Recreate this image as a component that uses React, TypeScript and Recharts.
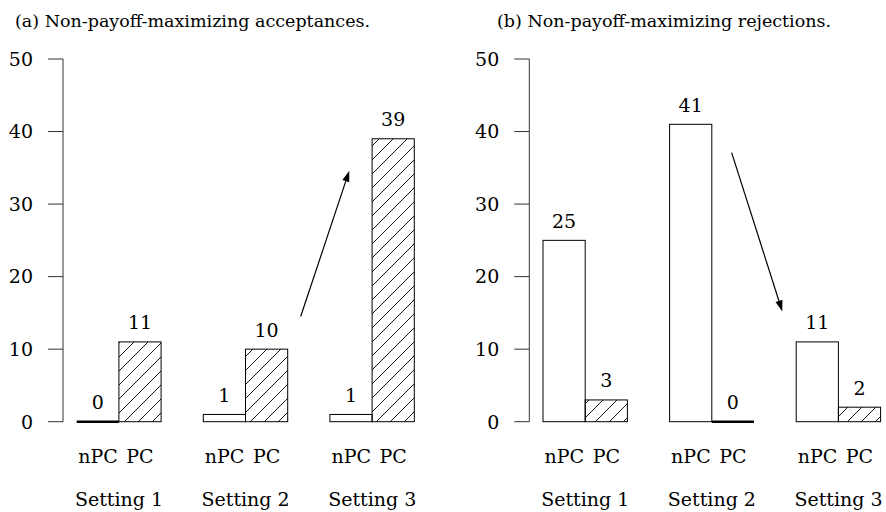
import React from "react";
import { BarChart, Bar, XAxis, YAxis, ReferenceLine, LabelList } from "recharts";

const categories = ["Setting 1", "Setting 2", "Setting 3"];
const seriesNames = ["nPC", "PC"];
const acceptNPC = [0, 1, 1];
const acceptPC = [11, 10, 39];
const rejectNPC = [25, 41, 11];
const rejectPC = [3, 0, 2];
const yTicks = [0, 10, 20, 30, 40, 50];
const titles = ["(a) Non-payoff-maximizing acceptances.", "(b) Non-payoff-maximizing rejections."];
const arrowA = [{ x: 1.935, y: 14.5 }, { x: 2.319, y: 34.6 }];
const arrowB = [{ x: 1.656, y: 37.1 }, { x: 2.056, y: 15.2 }];

const FONT = "DejaVu Serif";
const AXIS_SHIFT = 7.3;
const AXIS_COLOR = "#333";

const buildData = (npc: number[], pc: number[]) =>
  categories.map((c, i) => ({ setting: c, pos: i + 0.5, nPC: npc[i], PC: pc[i] }));

const BarShape = (props: any) => {
  const { x, y, width, height, fill } = props;
  if (!height || Math.abs(height) < 0.5) {
    return <line x1={x} x2={x + width} y1={y + (height || 0)} y2={y + (height || 0)} stroke="#000" strokeWidth={2.4} />;
  }
  return <rect x={x} y={y} width={width} height={height} fill={fill} stroke="#000" strokeWidth={1} />;
};

const ValueLabel = (props: any) => {
  const { x, y, width, value } = props;
  return (
    <text x={x + width / 2} y={y - 12.5} textAnchor="middle" style={{ fontFamily: FONT, fontSize: 19 }} fill="#000">
      {value}
    </text>
  );
};

const YTick = (props: any) => {
  const { x, y, payload } = props;
  const ax = x + AXIS_SHIFT;
  return (
    <g>
      <line x1={ax - 15} x2={ax} y1={y} y2={y} stroke={AXIS_COLOR} strokeWidth={1} />
      <text x={ax - 30} y={y} dy="0.36em" textAnchor="end" style={{ fontFamily: FONT, fontSize: 19 }} fill="#000">
        {payload.value}
      </text>
    </g>
  );
};

const XTick = (props: any) => {
  const { x, y, payload } = props;
  return (
    <g>
      <text x={x - 21} y={y + 41.5} textAnchor="middle" style={{ fontFamily: FONT, fontSize: 19 }} fill="#000">
        {seriesNames[0]}
      </text>
      <text x={x + 21} y={y + 41.5} textAnchor="middle" style={{ fontFamily: FONT, fontSize: 19 }} fill="#000">
        {seriesNames[1]}
      </text>
      <text x={x} y={y + 84.5} textAnchor="middle" style={{ fontFamily: FONT, fontSize: 19 }} fill="#000">
        {payload.value}
      </text>
    </g>
  );
};

const ArrowShape = (props: any) => {
  const { x1, y1, x2, y2 } = props;
  const dx = x2 - x1;
  const dy = y2 - y1;
  const len = Math.sqrt(dx * dx + dy * dy) || 1;
  const ux = dx / len;
  const uy = dy / len;
  const hl = 11;
  const hw = 3.6;
  const bx = x2 - ux * hl;
  const by = y2 - uy * hl;
  const pts = `${x2},${y2} ${bx - uy * hw},${by + ux * hw} ${bx + uy * hw},${by - ux * hw}`;
  return (
    <g>
      <line x1={x1} y1={y1} x2={bx} y2={by} stroke="#000" strokeWidth={1.2} />
      <polygon points={pts} fill="#000" />
    </g>
  );
};

const Panel = ({ npc, pc, arrow, width, yAxisWidth }: any) => {
  const data = buildData(npc, pc);
  const plotW = 126.6 * 3;
  return (
    <BarChart
      width={width}
      height={512}
      data={data}
      margin={{ top: 59, right: width - yAxisWidth - plotW, bottom: 0, left: 0 }}
      barGap={0}
      barSize={42.2}
    >
      <XAxis
        dataKey="setting"
        height={90.3}
        axisLine={false}
        tickLine={false}
        tickSize={0}
        tickMargin={0}
        interval={0}
        tick={<XTick />}
      />
      <XAxis xAxisId="num" dataKey="pos" type="number" domain={[0, 3]} allowDataOverflow hide />
      <YAxis
        width={yAxisWidth}
        domain={[0, 50]}
        ticks={yTicks}
        axisLine={false}
        tickLine={false}
        tickSize={0}
        tickMargin={0}
        interval={0}
        tick={<YTick />}
      />
      <ReferenceLine xAxisId="num" x={AXIS_SHIFT / 126.6} stroke={AXIS_COLOR} strokeWidth={1} />
      <Bar dataKey="nPC" fill="#fff" shape={<BarShape />} isAnimationActive={false}>
        <LabelList dataKey="nPC" content={<ValueLabel />} />
      </Bar>
      <Bar dataKey="PC" fill="url(#hatch)" shape={<BarShape />} isAnimationActive={false}>
        <LabelList dataKey="PC" content={<ValueLabel />} />
      </Bar>
      <ReferenceLine xAxisId="num" segment={arrow} shape={ArrowShape} ifOverflow="visible" />
    </BarChart>
  );
};

export default function App() {
  return (
    <div style={{ position: "absolute", left: 0, top: 0, width: 886, height: 512, overflow: "hidden", background: "#fff" }}>
      <svg width={0} height={0} style={{ position: "absolute" }}>
        <defs>
          <pattern id="hatch" patternUnits="userSpaceOnUse" width={14} height={14}>
            <path d="M0,14 L14,0 M-3,3 L3,-3 M11,17 L17,11" stroke="#000" strokeWidth={0.9} />
          </pattern>
        </defs>
      </svg>
      <div style={{ position: "absolute", left: 0, top: 0 }}>
        <Panel npc={acceptNPC} pc={acceptPC} arrow={arrowA} width={443} yAxisWidth={55.7} />
      </div>
      <div style={{ position: "absolute", left: 443, top: 0 }}>
        <Panel npc={rejectNPC} pc={rejectPC} arrow={arrowB} width={470} yAxisWidth={79} />
      </div>
      <svg width={886} height={40} style={{ position: "absolute", left: 0, top: 0 }}>
        <text x={15} y={27} style={{ fontFamily: FONT, fontSize: 17.5 }} fill="#000">{titles[0]}</text>
        <text x={497} y={27} style={{ fontFamily: FONT, fontSize: 17.5 }} fill="#000">{titles[1]}</text>
      </svg>
    </div>
  );
}
